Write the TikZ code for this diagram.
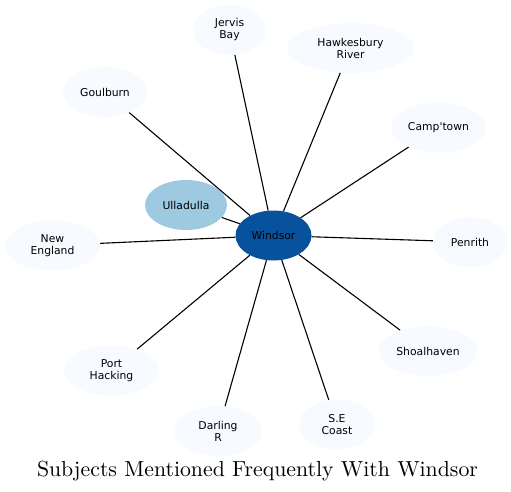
\documentclass[tikz,border=0pt]{standalone}
\usepackage{fontspec}
\newfontfamily\placefont{DejaVu Sans}
\newfontfamily\titlefont{lmroman10-regular.otf}
\usetikzlibrary{shapes.geometric}
\definecolor{hubblue}{HTML}{08519C}
\definecolor{nearblue}{HTML}{9ECAE1}
\definecolor{paleblue}{HTML}{F7FBFF}

\begin{document}
\begin{tikzpicture}[x=1pt,y=-1pt,
  place/.style={ellipse,fill=paleblue,inner sep=0pt,minimum height=50pt,align=center,
    font=\placefont\fontsize{10.8}{12}\selectfont},
  link/.style={black,line width=1.1pt}]
\useasboundingbox (0,0) rectangle (511,491);
\node[place,fill=hubblue,minimum width=76pt] (windsor) at (273.5,235.5) {Windsor};
\node[place,fill=nearblue,minimum width=82pt] (ulladulla) at (186,205) {Ulladulla};
\node[place,minimum width=73pt] (jervis) at (229.5,30) {Jervis\\Bay};
\node[place,minimum width=127pt] (hawkesbury) at (350.5,48) {Hawkesbury\\River};
\node[place,minimum width=84pt] (goulburn) at (105,92) {Goulburn};
\node[place,minimum width=95pt] (camptown) at (438.5,127.5) {Camp'town};
\node[place,minimum width=95pt] (newengland) at (52.5,245.5) {New\\England};
\node[place,minimum width=74pt] (penrith) at (470,242) {Penrith};
\node[place,minimum width=95pt] (porthacking) at (111.5,370.5) {Port\\Hacking};
\node[place,minimum width=99pt] (shoalhaven) at (428,351) {Shoalhaven};
\node[place,minimum width=88pt] (darling) at (218,431) {Darling\\R};
\node[place,minimum width=76pt] (secoast) at (337,424.5) {S.E\\Coast};
\foreach \n in {ulladulla,jervis,hawkesbury,goulburn,camptown,newengland,
  penrith,porthacking,shoalhaven,darling,secoast}
  \draw[link] (windsor) -- (\n);
\node[anchor=base,font=\titlefont\fontsize{21.8}{26}\selectfont] (title) at (257.5,476)
  {Subjects Mentioned Frequently With Windsor};
\end{tikzpicture}
\end{document}
